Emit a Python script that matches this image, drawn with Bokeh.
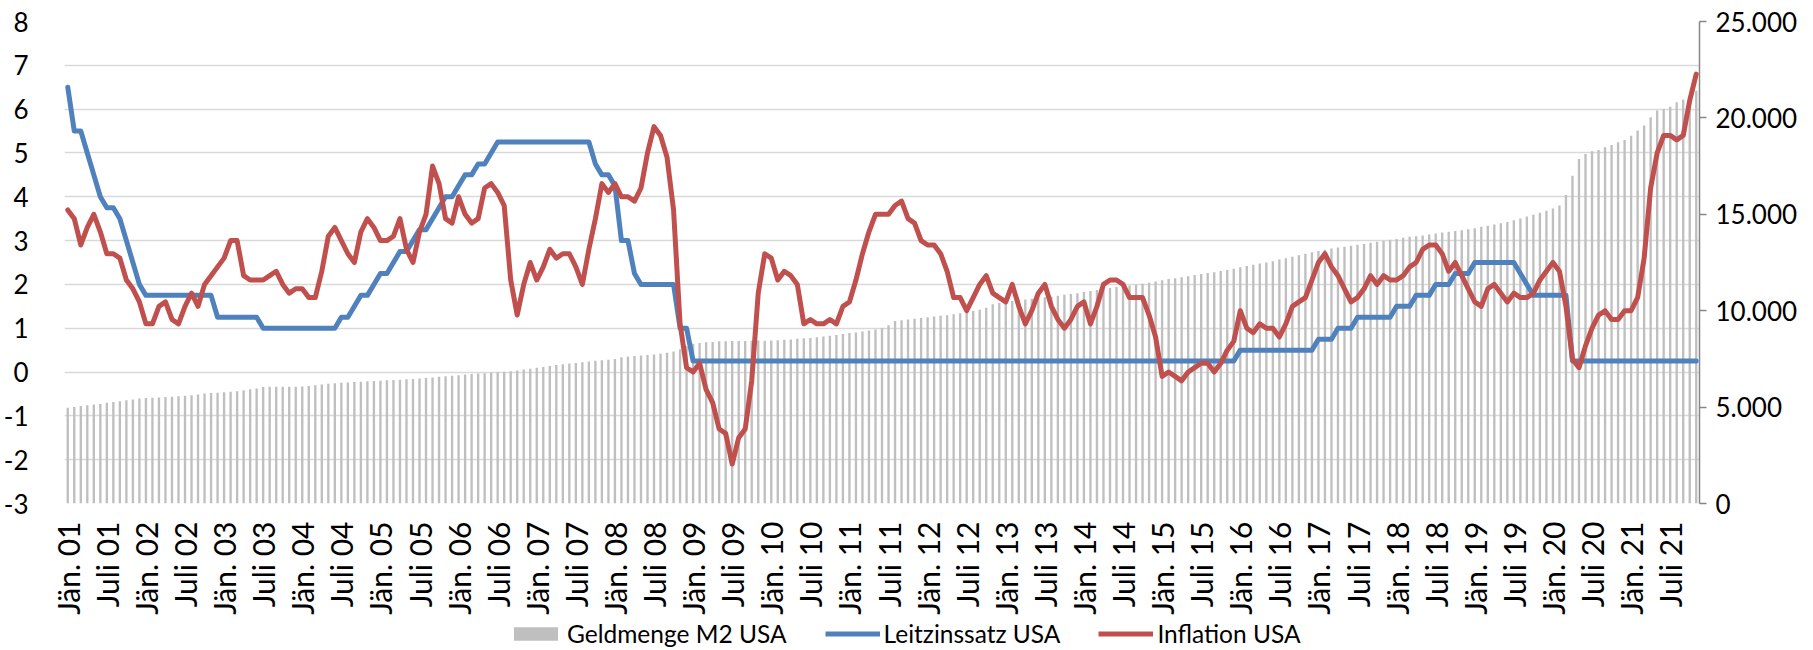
import math
from bokeh.plotting import figure
from bokeh.layouts import column
from bokeh.models import Range1d, LinearAxis, FixedTicker, Legend, LegendItem, ColumnDataSource
from bokeh.embed import file_html
from bokeh.resources import INLINE

# ---------------- data (monthly, Jan 2001 - Nov 2021) ----------------
tick_labels = ["Jän. 01", "Juli 01", "Jän. 02", "Juli 02", "Jän. 03", "Juli 03", "Jän. 04", "Juli 04",
               "Jän. 05", "Juli 05", "Jän. 06", "Juli 06", "Jän. 07", "Juli 07", "Jän. 08", "Juli 08",
               "Jän. 09", "Juli 09", "Jän. 10", "Juli 10", "Jän. 11", "Juli 11", "Jän. 12", "Juli 12",
               "Jän. 13", "Juli 13", "Jän. 14", "Juli 14", "Jän. 15", "Juli 15", "Jän. 16", "Juli 16",
               "Jän. 17", "Juli 17", "Jän. 18", "Juli 18", "Jän. 19", "Juli 19", "Jän. 20", "Juli 20",
               "Jän. 21", "Juli 21"]

# Geldmenge M2 USA (Mrd. USD), right axis
m2_usa = [
    4970, 5010, 5060, 5090, 5130, 5160, 5230, 5270, 5300, 5350, 5400, 5440,        # 2001
    5470, 5490, 5500, 5520, 5540, 5560, 5590, 5610, 5650, 5700, 5730, 5750,        # 2002
    5770, 5800, 5820, 5870, 5920, 5970, 6040, 6050, 6050, 6050, 6050, 6050,        # 2003
    6070, 6100, 6130, 6170, 6210, 6240, 6260, 6280, 6300, 6320, 6340, 6360,        # 2004
    6370, 6390, 6400, 6420, 6440, 6460, 6480, 6510, 6540, 6570, 6600, 6620,        # 2005
    6650, 6690, 6720, 6740, 6760, 6790, 6810, 6830, 6860, 6900, 6950, 6990,        # 2006
    7040, 7080, 7130, 7180, 7220, 7260, 7290, 7330, 7370, 7400, 7430, 7460,        # 2007
    7500, 7580, 7630, 7650, 7670, 7700, 7730, 7770, 7820, 7890, 8000, 8150,        # 2008
    8290, 8330, 8370, 8380, 8410, 8420, 8430, 8430, 8430, 8440, 8450, 8440,        # 2009
    8460, 8470, 8490, 8510, 8540, 8570, 8590, 8620, 8660, 8700, 8740, 8790,        # 2010
    8840, 8870, 8920, 8970, 9030, 9100, 9250, 9470, 9500, 9540, 9580, 9620,        # 2011
    9660, 9700, 9740, 9770, 9810, 9870, 9920, 9980, 10050, 10150, 10330, 10400,    # 2012
    10460, 10500, 10540, 10580, 10620, 10660, 10700, 10740, 10780, 10830, 10870, 10910,  # 2013
    10970, 11020, 11080, 11130, 11180, 11230, 11270, 11310, 11350, 11400, 11450, 11520,  # 2014
    11580, 11640, 11680, 11730, 11790, 11850, 11910, 11960, 12000, 12060, 12110, 12170,  # 2015
    12250, 12320, 12380, 12450, 12500, 12570, 12650, 12720, 12800, 12880, 12960, 13030,  # 2016
    13100, 13160, 13230, 13280, 13320, 13370, 13420, 13460, 13520, 13580, 13630, 13680,  # 2017
    13720, 13780, 13830, 13860, 13900, 13950, 14000, 14060, 14100, 14130, 14170, 14220,  # 2018
    14280, 14350, 14400, 14470, 14530, 14600, 14690, 14780, 14880, 14980, 15080, 15180,  # 2019
    15300, 15450, 16000, 17000, 17870, 18130, 18270, 18340, 18480, 18600, 18740, 18860,  # 2020
    19080, 19340, 19600, 20030, 20380, 20460, 20580, 20810, 20960, 21150, 21410,         # 2021
]

# Leitzinssatz USA (%), left axis
leitzins_usa = (
    [6.5, 5.5, 5.5, 5.0, 4.5, 4.0, 3.75, 3.75, 3.5, 3.0, 2.5, 2.0]                      # 2001
    + [1.75, 1.75, 1.75, 1.75, 1.75, 1.75, 1.75, 1.75, 1.75, 1.75, 1.75, 1.25]          # 2002
    + [1.25, 1.25, 1.25, 1.25, 1.25, 1.25, 1.0, 1.0, 1.0, 1.0, 1.0, 1.0]                # 2003
    + [1.0, 1.0, 1.0, 1.0, 1.0, 1.0, 1.25, 1.25, 1.5, 1.75, 1.75, 2.0]                  # 2004
    + [2.25, 2.25, 2.5, 2.75, 2.75, 3.0, 3.25, 3.25, 3.5, 3.75, 4.0, 4.0]               # 2005
    + [4.25, 4.5, 4.5, 4.75, 4.75, 5.0, 5.25, 5.25, 5.25, 5.25, 5.25, 5.25]             # 2006
    + [5.25, 5.25, 5.25, 5.25, 5.25, 5.25, 5.25, 5.25, 5.25, 4.75, 4.5, 4.5]            # 2007
    + [4.25, 3.0, 3.0, 2.25, 2.0, 2.0, 2.0, 2.0, 2.0, 2.0, 1.0, 1.0]                    # 2008
    + [0.25] * 84                                                                       # 2009-2015
    + [0.5] * 12                                                                        # 2016
    + [0.75, 0.75, 0.75, 1.0, 1.0, 1.0, 1.25, 1.25, 1.25, 1.25, 1.25, 1.25]             # 2017
    + [1.5, 1.5, 1.5, 1.75, 1.75, 1.75, 2.0, 2.0, 2.0, 2.25, 2.25, 2.25]                # 2018
    + [2.5, 2.5, 2.5, 2.5, 2.5, 2.5, 2.5, 2.25, 2.0, 1.75, 1.75, 1.75]                  # 2019
    + [1.75, 1.75, 1.75, 0.25, 0.25, 0.25, 0.25, 0.25, 0.25, 0.25, 0.25, 0.25]          # 2020
    + [0.25] * 11                                                                       # 2021
)

# Inflation USA (%), left axis
inflation_usa = [
    3.7, 3.5, 2.9, 3.3, 3.6, 3.2, 2.7, 2.7, 2.6, 2.1, 1.9, 1.6,      # 2001
    1.1, 1.1, 1.5, 1.6, 1.2, 1.1, 1.5, 1.8, 1.5, 2.0, 2.2, 2.4,      # 2002
    2.6, 3.0, 3.0, 2.2, 2.1, 2.1, 2.1, 2.2, 2.3, 2.0, 1.8, 1.9,      # 2003
    1.9, 1.7, 1.7, 2.3, 3.1, 3.3, 3.0, 2.7, 2.5, 3.2, 3.5, 3.3,      # 2004
    3.0, 3.0, 3.1, 3.5, 2.8, 2.5, 3.2, 3.6, 4.7, 4.3, 3.5, 3.4,      # 2005
    4.0, 3.6, 3.4, 3.5, 4.2, 4.3, 4.1, 3.8, 2.1, 1.3, 2.0, 2.5,      # 2006
    2.1, 2.4, 2.8, 2.6, 2.7, 2.7, 2.4, 2.0, 2.8, 3.5, 4.3, 4.1,      # 2007
    4.3, 4.0, 4.0, 3.9, 4.2, 5.0, 5.6, 5.4, 4.9, 3.7, 1.1, 0.1,      # 2008
    0.0, 0.2, -0.4, -0.7, -1.3, -1.4, -2.1, -1.5, -1.3, -0.2, 1.8, 2.7,  # 2009
    2.6, 2.1, 2.3, 2.2, 2.0, 1.1, 1.2, 1.1, 1.1, 1.2, 1.1, 1.5,      # 2010
    1.6, 2.1, 2.7, 3.2, 3.6, 3.6, 3.6, 3.8, 3.9, 3.5, 3.4, 3.0,      # 2011
    2.9, 2.9, 2.7, 2.3, 1.7, 1.7, 1.4, 1.7, 2.0, 2.2, 1.8, 1.7,      # 2012
    1.6, 2.0, 1.5, 1.1, 1.4, 1.8, 2.0, 1.5, 1.2, 1.0, 1.2, 1.5,      # 2013
    1.6, 1.1, 1.5, 2.0, 2.1, 2.1, 2.0, 1.7, 1.7, 1.7, 1.3, 0.8,      # 2014
    -0.1, 0.0, -0.1, -0.2, 0.0, 0.1, 0.2, 0.2, 0.0, 0.2, 0.5, 0.7,   # 2015
    1.4, 1.0, 0.9, 1.1, 1.0, 1.0, 0.8, 1.1, 1.5, 1.6, 1.7, 2.1,      # 2016
    2.5, 2.7, 2.4, 2.2, 1.9, 1.6, 1.7, 1.9, 2.2, 2.0, 2.2, 2.1,      # 2017
    2.1, 2.2, 2.4, 2.5, 2.8, 2.9, 2.9, 2.7, 2.3, 2.5, 2.2, 1.9,      # 2018
    1.6, 1.5, 1.9, 2.0, 1.8, 1.6, 1.8, 1.7, 1.7, 1.8, 2.1, 2.3,      # 2019
    2.5, 2.3, 1.5, 0.3, 0.1, 0.6, 1.0, 1.3, 1.4, 1.2, 1.2, 1.4,      # 2020
    1.4, 1.7, 2.6, 4.2, 5.0, 5.4, 5.4, 5.3, 5.4, 6.2, 6.8,           # 2021
]

left_ticks = [-3, -2, -1, 0, 1, 2, 3, 4, 5, 6, 7, 8]
left_tick_labels = ["-3", "-2", "-1", "0", "1", "2", "3", "4", "5", "6", "7", "8"]
right_ticks = [0, 5000, 10000, 15000, 20000, 25000]
right_tick_labels = ["0", "5.000", "10.000", "15.000", "20.000", "25.000"]
series_names = ["Geldmenge M2 USA", "Leitzinssatz USA", "Inflation USA"]

# ---------------- main figure ----------------
n = len(m2_usa)
months = list(range(n))
tick_positions = list(range(0, n, 6))

FONT = "Lato"
BAR_COLOR = "#BFBFBF"
BLUE = "#4F81BD"
RED = "#C0504D"
LW = 5

p = figure(width=1813, height=618, output_backend="svg", toolbar_location=None,
           x_range=Range1d(-0.5, n - 0.5), y_range=Range1d(-3, 8),
           min_border_left=57, min_border_right=114, min_border_top=21, min_border_bottom=115)
p.outline_line_color = None
p.background_fill_color = "white"
p.border_fill_color = "white"
p.extra_y_ranges = {"m2": Range1d(0, 25000)}

src = ColumnDataSource(dict(x=months, m2=m2_usa, fed=leitzins_usa, cpi=inflation_usa))

p.vbar(x="x", top="m2", bottom=0, width=0.36, source=src, y_range_name="m2",
       fill_color=BAR_COLOR, line_color=None)
p.line("x", "fed", source=src, line_color=BLUE, line_width=LW,
       line_join="round", line_cap="round")
p.line("x", "cpi", source=src, line_color=RED, line_width=LW,
       line_join="round", line_cap="round")

# left axis
ya = p.yaxis[0]
ya.ticker = FixedTicker(ticks=left_ticks)
ya.major_label_overrides = {t: l for t, l in zip(left_ticks, left_tick_labels)}
ya.axis_line_color = None
ya.major_tick_line_color = None
ya.minor_tick_line_color = None
ya.major_label_standoff = 30
ya.major_label_text_font = FONT
ya.major_label_text_font_size = "26px"
ya.major_label_text_color = "#000000"

# bottom axis
xa = p.xaxis[0]
xa.ticker = FixedTicker(ticks=tick_positions)
xa.major_label_overrides = {pos: lab for pos, lab in zip(tick_positions, tick_labels)}
xa.major_label_orientation = math.pi / 2
xa.axis_line_color = None
xa.major_tick_line_color = None
xa.minor_tick_line_color = None
xa.major_label_standoff = 12
xa.major_label_text_font = FONT
xa.major_label_text_font_size = "30px"
xa.major_label_text_color = "#000000"

# right axis
ra = LinearAxis(y_range_name="m2", ticker=FixedTicker(ticks=right_ticks))
ra.major_label_overrides = {t: l for t, l in zip(right_ticks, right_tick_labels)}
ra.axis_line_color = "#868686"
ra.axis_line_width = 1.5
ra.major_tick_line_color = "#868686"
ra.major_tick_line_width = 1.5
ra.major_tick_out = 7
ra.major_tick_in = 0
ra.minor_tick_line_color = None
ra.major_label_standoff = 9
ra.major_label_text_font = FONT
ra.major_label_text_font_size = "26px"
ra.major_label_text_color = "#000000"
p.add_layout(ra, "right")

# grid
p.xgrid.visible = False
p.ygrid.ticker = FixedTicker(ticks=left_ticks)
p.ygrid.grid_line_color = "#D9D9D9"
p.ygrid.grid_line_width = 1.5

# ---------------- legend strip ----------------
lf = figure(width=1813, height=32, output_backend="svg", toolbar_location=None,
            x_axis_type=None, y_axis_type=None, min_border=0,
            x_range=Range1d(0, 1), y_range=Range1d(0, 1))
lf.outline_line_color = None
lf.background_fill_color = "white"
lf.border_fill_color = "white"
# off-screen proxies: only used to draw the legend swatches
lg_bar = lf.vbar(x=[-5], top=[-5], bottom=[-6], width=0.36, fill_color=BAR_COLOR, line_color=None)
lg_blue = lf.line(x=[-5, -4], y=[-5, -5], line_color=BLUE, line_width=LW)
lg_red = lf.line(x=[-5, -4], y=[-5, -5], line_color=RED, line_width=LW)

legend = Legend(items=[LegendItem(label=series_names[0], renderers=[lg_bar]),
                       LegendItem(label=series_names[1], renderers=[lg_blue]),
                       LegendItem(label=series_names[2], renderers=[lg_red])],
                orientation="horizontal", location=(444, 2),
                border_line_color=None, background_fill_alpha=0,
                padding=0, margin=0, glyph_width=55, glyph_height=17,
                label_standoff=4, spacing=38,
                label_text_font=FONT, label_text_font_size="24.5px", label_text_color="#000000")
lf.add_layout(legend, "center")

layout = column(p, lf, spacing=0)
open("out.html", "w").write(file_html(layout, INLINE))
